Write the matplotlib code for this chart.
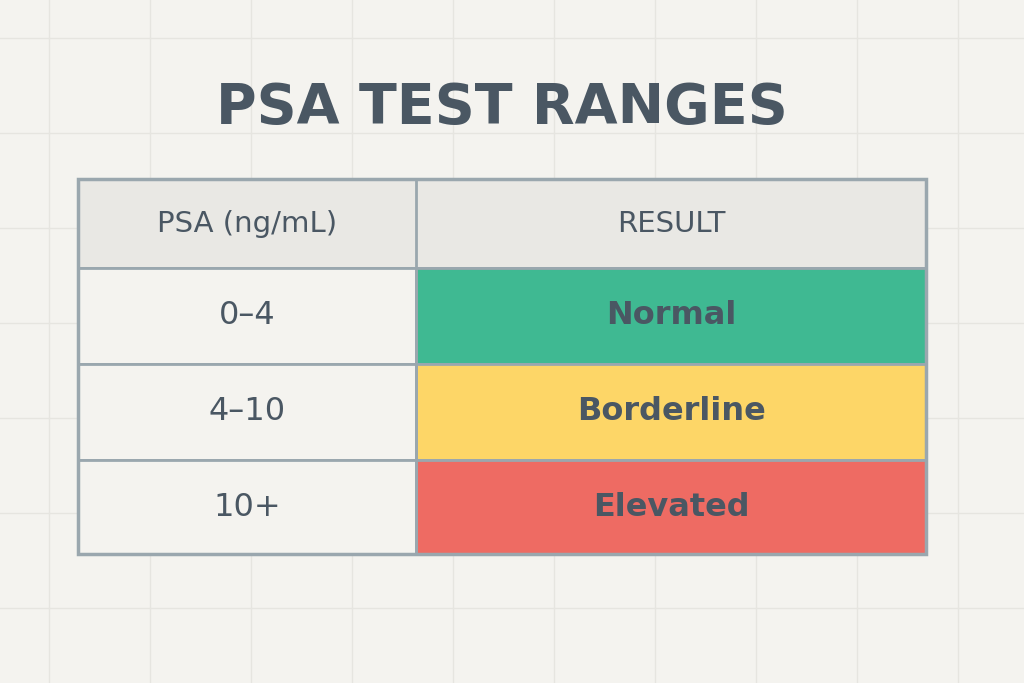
import matplotlib
matplotlib.use("Agg")
import matplotlib.pyplot as plt
from matplotlib.patches import Rectangle

title = "PSA TEST RANGES"
headers = ["PSA (ng/mL)", "RESULT"]
ranges = ["0–4", "4–10", "10+"]
results = ["Normal", "Borderline", "Elevated"]
result_colors = ["#3fb992", "#fdd667", "#ee6b63"]

W, H = 1024, 683
fig = plt.figure(figsize=(W/100, H/100), dpi=100)
fig.patch.set_facecolor("#f4f3ef")
ax = fig.add_axes([0, 0, 1, 1])
ax.set_xlim(0, W); ax.set_ylim(H, 0); ax.axis("off")

for x in range(49, W, 101):
    ax.plot([x, x], [0, H], color="#e6e5e0", lw=1, zorder=0)
for y in range(38, H, 95):
    ax.plot([0, W], [y, y], color="#e6e5e0", lw=1, zorder=0)

txt = "#4a5763"
ax.text(502, 108, title, ha="center", va="center", fontsize=40, fontweight="bold",
        color=txt, family="DejaVu Sans")

x0, xm, x1 = 78, 416, 926
rows = [179, 268, 364, 460, 554]
edge = "#9aa7ae"
# header
ax.add_patch(Rectangle((x0, rows[0]), x1-x0, rows[1]-rows[0], fc="#e9e8e4", ec=edge, lw=2))
ax.text((x0+xm)/2, (rows[0]+rows[1])/2, headers[0], ha="center", va="center", fontsize=21, color=txt, family="DejaVu Sans")
ax.text((xm+x1)/2, (rows[0]+rows[1])/2, headers[1], ha="center", va="center", fontsize=21, color=txt, family="DejaVu Sans")
for i, (r, res, c) in enumerate(zip(ranges, results, result_colors)):
    y0, y1 = rows[i+1], rows[i+2]
    ax.add_patch(Rectangle((x0, y0), xm-x0, y1-y0, fc="#f4f3ef", ec=edge, lw=2))
    ax.add_patch(Rectangle((xm, y0), x1-xm, y1-y0, fc=c, ec=edge, lw=2))
    ax.text((x0+xm)/2, (y0+y1)/2, r, ha="center", va="center", fontsize=23, color=txt, family="DejaVu Sans")
    ax.text((xm+x1)/2, (y0+y1)/2, res, ha="center", va="center", fontsize=23, color=txt, fontweight="bold", family="DejaVu Sans")
ax.plot([xm, xm], [rows[0], rows[-1]], color=edge, lw=2)
ax.add_patch(Rectangle((x0, rows[0]), x1-x0, rows[-1]-rows[0], fc="none", ec=edge, lw=2.5))

fig.savefig("out.png", dpi=100, facecolor=fig.get_facecolor())
